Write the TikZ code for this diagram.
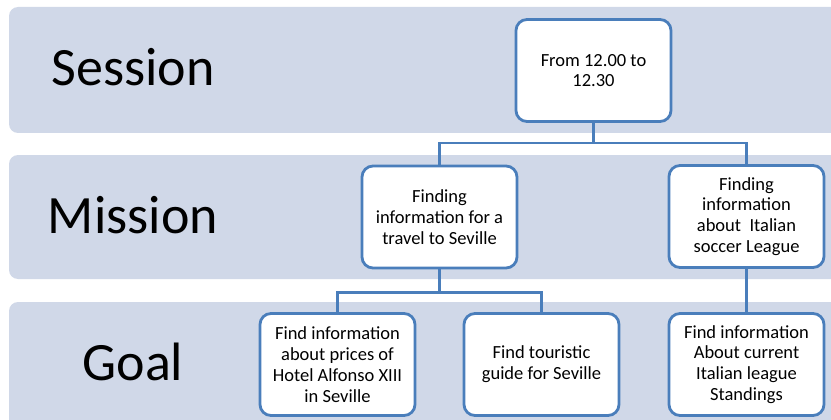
\documentclass[tikz,border=0pt]{standalone}
\usepackage{fontspec}
\setmainfont{Carlito}
\usepackage{tikz}

\definecolor{bandfill}{HTML}{D0D8E8}
\definecolor{boxline}{HTML}{4A7EBB}

\tikzset{
  band/.style={fill=bandfill, rounded corners=9pt},
  level/.style={anchor=base, font=\fontsize{54}{60}\selectfont},
  task/.style={draw=boxline, line width=2.8pt, fill=white, rounded corners=11pt,
    minimum width=155pt, minimum height=102pt, align=center, inner sep=2pt,
    font=\fontsize{18.5}{20.8}\selectfont},
  link/.style={draw=boxline, line width=2.8pt}
}

\begin{document}
\begin{tikzpicture}[x=1pt, y=-1pt]
    % Fix the page to the reference size
    \useasboundingbox (0, 0) rectangle (831, 420);
    \clip (0, 0) rectangle (831, 420);

    % Define the band heights
    \pgfmathsetmacro{\bandleft}{9}
    \pgfmathsetmacro{\labelx}{133}

    % Draw the bands
    \path[band] (\bandleft, 7) rectangle (860, 133);
    \path[band] (\bandleft, 155) rectangle (860, 279);
    \path[band] (\bandleft, 302) rectangle (860, 450);

    % Add the level labels
    \node[level] (lsession) at (\labelx, 85) {Session};
    \node[level] (lmission) at (\labelx, 233) {Mission};
    \node[level] (lgoal) at (\labelx, 380) {Goal};

    % Draw the boxes
    \node[task] (session) at (593.5, 70.5) {From 12.00 to\\12.30};
    \node[task] (seville) at (439.5, 217) {Finding\\information for a\\travel to Seville};
    \node[task] (soccer) at (746.5, 216.5) {Finding\\information\\about~ Italian\\soccer League};
    \node[task] (hotel) at (337.5, 364.5) {Find information\\about prices of\\Hotel Alfonso XIII\\in Seville};
    \node[task] (guide) at (541.5, 364.5) {Find touristic\\guide for Seville};
    \node[task] (standings) at (746.5, 364.5) {Find information\\About current\\Italian league\\Standings};

    % Connect the boxes
    \coordinate (fork1) at ([yshift=-20pt]session.south);
    \coordinate (fork2) at ([yshift=-23pt]seville.south);
    \draw[link] (session.south) -- (fork1) -| (seville.north);
    \draw[link] (fork1) -| (soccer.north);
    \draw[link] (seville.south) -- (fork2) -| (hotel.north);
    \draw[link] (fork2) -| (guide.north);
    \draw[link] (soccer.south) -- (standings.north);
\end{tikzpicture}
\end{document}
